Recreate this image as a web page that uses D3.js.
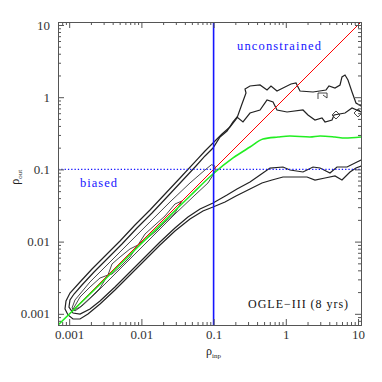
<!DOCTYPE html>
<html>
<head>
<meta charset="utf-8">
<script src="https://cdn.jsdelivr.net/npm/d3@7/dist/d3.min.js"></script>
<style>
  body { margin: 0; background: #fff; }
</style>
</head>
<body>
<div id="chart"></div>
<script>
const width = 382, height = 382;
const margin = {left: 58, top: 22, right: 21, bottom: 57};

// axis range and ticks
const rhoMin = 0.0007, rhoMax = 11;
const majorTicks = [0.001, 0.01, 0.1, 1, 10];
const majorLabels = ["0.001", "0.01", "0.1", "1", "10"];
const cutInp = 0.1, cutOut = 0.1;

// median recovered value (green)
const medianInp = [0.0007, 0.00267, 0.0131, 0.0471, 0.098, 0.186, 0.319, 0.483, 0.78, 1.14, 2.16, 2.98, 4.8, 6.6, 11];
const medianOut = [0.0007, 0.00257, 0.0123, 0.0428, 0.0863, 0.144, 0.204, 0.264, 0.281, 0.29, 0.281, 0.29, 0.281, 0.272, 0.281];

// contour lines, vertices as [log10 rho_inp, log10 rho_out]
const contourOuter = [
  [1.11,-0.15],[1.042,-0.122],[0.972,-0.080],[0.917,0.072],[0.861,0.238],[0.820,0.307],[0.778,0.280],[0.751,0.169],
  [0.681,0.127],[0.598,0.155],[0.557,0.100],[0.377,0.072],[0.197,0.086],[0.141,0.197],[0.072,0.183],[-0.039,0.127],
  [-0.122,0.086],[-0.205,0.155],[-0.260,0.100],[-0.357,0.169],[-0.496,0.155],[-0.565,0.114],[-0.551,0.058],[-0.607,-0.094],
  [-0.676,-0.288],[-0.773,-0.413],[-0.884,-0.510],[-1.008,-0.634],[-1.119,-0.745],[-1.258,-0.897],[-1.465,-1.119],
  [-1.673,-1.341],[-1.881,-1.562],[-2.089,-1.770],[-2.296,-1.992],[-2.504,-2.199],[-2.684,-2.379],[-2.850,-2.559],
  [-2.989,-2.712],[-3.044,-2.823],[-3.058,-2.933],[-3.016,-3.016],[-2.947,-3.072],[-2.850,-3.072],[-2.740,-3.003],
  [-2.573,-2.864],[-2.366,-2.670],[-2.158,-2.463],[-1.950,-2.255],[-1.742,-2.047],[-1.535,-1.853],[-1.327,-1.687],
  [-1.147,-1.576],[-1.008,-1.521],[-0.842,-1.451],[-0.690,-1.368],[-0.496,-1.271],[-0.330,-1.188],[-0.191,-1.147],
  [-0.039,-1.105],[0.127,-1.105],[0.294,-1.105],[0.404,-1.147],[0.543,-1.119],[0.681,-1.091],[0.778,-1.147],
  [0.889,-1.036],[0.972,-0.981],[1.042,-0.953],[1.11,-0.94]
];
const contourSecond = [
  [1.111,-0.856],[1.042,-0.870],[0.986,-0.897],[0.848,-0.967],[0.709,-0.967],[0.612,-1.050],[0.474,-0.981],[0.377,-0.967],
  [0.238,-1.036],[0.058,-1.008],[-0.039,-0.967],[-0.219,-0.981],[-0.357,-1.078],[-0.496,-1.174],[-0.676,-1.271],
  [-0.814,-1.355],[-1.008,-1.465],[-1.188,-1.548],[-1.355,-1.659],[-1.535,-1.812],[-1.742,-2.005],[-1.950,-2.213],
  [-2.158,-2.421],[-2.366,-2.629],[-2.573,-2.823],[-2.712,-2.933],[-2.850,-3.003],[-2.947,-2.989],[-3.003,-2.906],
  [-2.989,-2.809],[-2.933,-2.726],[-2.823,-2.601],[-2.656,-2.421],[-2.476,-2.241],[-2.269,-2.033],[-2.061,-1.812],
  [-1.853,-1.604],[-1.645,-1.382],[-1.438,-1.161],[-1.244,-0.953],[-1.119,-0.814],[-1.008,-0.704],[-0.911,-0.551],
  [-0.814,-0.468],[-0.731,-0.343],[-0.676,-0.274],[-0.593,-0.343],[-0.496,-0.219],[-0.357,-0.177],[-0.288,-0.080],
  [-0.260,-0.039],[-0.177,-0.066],[-0.122,-0.177],[0.017,-0.205],[0.238,-0.177],[0.307,-0.247],[0.404,-0.316],
  [0.501,-0.288],[0.543,-0.343],[0.640,-0.316],[0.668,-0.247],[0.820,-0.219],[0.917,-0.150],[1.042,-0.205],[1.111,-0.219]
];
const contourMiddle = [
  [-2.961,-2.920],[-2.920,-2.809],[-2.712,-2.559],[-2.435,-2.283],[-2.158,-2.005],[-1.881,-1.728],[-1.604,-1.451],
  [-1.327,-1.188],[-1.119,-1.008],[-1.030,-0.935],[-0.985,-0.950],[-0.975,-1.010],[-1.010,-1.080],[-1.078,-1.188],
  [-1.258,-1.355],[-1.535,-1.618],[-1.812,-1.895],[-2.089,-2.172],[-2.366,-2.449],[-2.643,-2.726],[-2.823,-2.892],
  [-2.920,-2.961],[-2.961,-2.920]
];
const contourInnerA = [
  [-2.961,-2.961],[-2.850,-2.767],[-2.712,-2.629],[-2.573,-2.504],[-2.463,-2.463],[-2.573,-2.643],[-2.712,-2.781],
  [-2.850,-2.906],[-2.961,-2.961]
];
const contourInnerB = [
  [-2.463,-2.463],[-2.407,-2.310],[-2.296,-2.213],[-2.158,-2.102],[-2.047,-2.047],[-2.158,-2.213],[-2.296,-2.352],
  [-2.407,-2.449],[-2.463,-2.463]
];
const contourInnerC = [
  [-2.047,-2.047],[-1.950,-1.895],[-1.812,-1.770],[-1.673,-1.645],[-1.535,-1.479],[-1.438,-1.438],[-1.535,-1.604],
  [-1.673,-1.728],[-1.812,-1.867],[-1.950,-1.978],[-2.047,-2.047]
];
const islandHook = [[0.446,-0.025],[0.446,0.058],[0.571,0.058],[0.571,-0.011],[0.515,0.030]];
const islandDiamondA = [[0.640,-0.247],[0.695,-0.191],[0.751,-0.247],[0.695,-0.302],[0.640,-0.247]];
const islandDiamondB = [[0.945,-0.219],[1.000,-0.163],[1.055,-0.219],[1.000,-0.274],[0.945,-0.219]];

const outerContours = [contourOuter, contourSecond];
const innerContours = [contourMiddle, contourInnerA, contourInnerB, contourInnerC,
  islandHook, islandDiamondA, islandDiamondB];

const innerW = width - margin.left - margin.right;
const innerH = height - margin.top - margin.bottom;

const serif = "'Liberation Serif', 'DejaVu Serif', serif";

const svg = d3.select("#chart")
    .append("svg")
    .attr("width", width)
    .attr("height", height)
    .attr("font-family", serif);

const g = svg.append("g")
    .attr("transform", `translate(${margin.left}, ${margin.top})`);

const x = d3.scaleLog().domain([rhoMin, rhoMax]).range([0, innerW]);
const y = d3.scaleLog().domain([rhoMin, rhoMax]).range([innerH, 0]);

g.append("clipPath").attr("id", "plot-clip")
    .append("rect").attr("width", innerW).attr("height", innerH);

const plot = g.append("g").attr("clip-path", "url(#plot-clip)");

// contours
const contourLine = d3.line()
    .x(d => x(Math.pow(10, d[0])))
    .y(d => y(Math.pow(10, d[1])));

plot.selectAll(".contour-outer")
    .data(outerContours)
    .enter().append("path")
    .attr("class", "contour-outer")
    .attr("d", contourLine)
    .attr("fill", "none")
    .attr("stroke", "#222")
    .attr("stroke-width", 1.2);

plot.selectAll(".contour-inner")
    .data(innerContours)
    .enter().append("path")
    .attr("class", "contour-inner")
    .attr("d", contourLine)
    .attr("fill", "none")
    .attr("stroke", "#333")
    .attr("stroke-width", 0.9);

// one-to-one line
plot.append("path")
    .datum([rhoMin, rhoMax])
    .attr("d", d3.line().x(d => x(d)).y(d => y(d)))
    .attr("fill", "none")
    .attr("stroke", "#ff0000")
    .attr("stroke-width", 1);

// median
plot.append("path")
    .datum(medianInp.map((v, i) => [v, medianOut[i]]))
    .attr("d", d3.line().x(d => x(d[0])).y(d => y(d[1])).curve(d3.curveMonotoneX))
    .attr("fill", "none")
    .attr("stroke", "#22ee22")
    .attr("stroke-width", 1.6);

// cuts
plot.append("line")
    .attr("x1", x(cutInp)).attr("x2", x(cutInp))
    .attr("y1", 0).attr("y2", innerH)
    .attr("stroke", "#1515ff")
    .attr("stroke-width", 1.6);

plot.append("line")
    .attr("x1", 0).attr("x2", innerW)
    .attr("y1", y(cutOut)).attr("y2", y(cutOut))
    .attr("stroke", "#1515ff")
    .attr("stroke-width", 1.3)
    .attr("stroke-dasharray", "1.3,2");

// axes
const minorTicks = x.ticks().filter(t => !majorTicks.some(m => Math.abs(m - t) / m < 1e-6));
const fmt = d => majorLabels[majorTicks.indexOf(d)];

function styleAxis(sel) {
    sel.attr("font-family", serif).attr("font-size", 13);
    sel.select(".domain").attr("stroke", "#555");
    sel.selectAll(".tick line").attr("stroke", "#555");
    sel.selectAll(".tick text").attr("fill", "#333");
}

g.append("g").attr("transform", `translate(0, ${innerH})`)
    .call(d3.axisBottom(x).tickValues(majorTicks).tickFormat(fmt).tickSizeInner(-6).tickSizeOuter(0).tickPadding(5))
    .call(styleAxis);
g.append("g").attr("transform", `translate(0, ${innerH})`)
    .call(d3.axisBottom(x).tickValues(minorTicks).tickFormat("").tickSizeInner(-3).tickSizeOuter(0))
    .call(styleAxis);
g.append("g")
    .call(d3.axisTop(x).tickValues(majorTicks).tickFormat("").tickSizeInner(-6).tickSizeOuter(0))
    .call(styleAxis);
g.append("g")
    .call(d3.axisTop(x).tickValues(minorTicks).tickFormat("").tickSizeInner(-3).tickSizeOuter(0))
    .call(styleAxis);
g.append("g")
    .call(d3.axisLeft(y).tickValues(majorTicks).tickFormat(fmt).tickSizeInner(-6).tickSizeOuter(0).tickPadding(8))
    .call(styleAxis);
g.append("g")
    .call(d3.axisLeft(y).tickValues(minorTicks).tickFormat("").tickSizeInner(-3).tickSizeOuter(0))
    .call(styleAxis);
g.append("g").attr("transform", `translate(${innerW}, 0)`)
    .call(d3.axisRight(y).tickValues(majorTicks).tickFormat("").tickSizeInner(-6).tickSizeOuter(0))
    .call(styleAxis);
g.append("g").attr("transform", `translate(${innerW}, 0)`)
    .call(d3.axisRight(y).tickValues(minorTicks).tickFormat("").tickSizeInner(-3).tickSizeOuter(0))
    .call(styleAxis);

// annotations
g.append("text")
    .attr("x", x(0.211)).attr("y", y(4.5))
    .attr("fill", "#1515ff").attr("font-size", 12.5)
    .attr("textLength", 84).attr("lengthAdjust", "spacing")
    .text("unconstrained");
g.append("text")
    .attr("x", x(0.00141)).attr("y", y(0.057))
    .attr("fill", "#1515ff").attr("font-size", 12.5)
    .attr("textLength", 37).attr("lengthAdjust", "spacing")
    .text("biased");
g.append("text")
    .attr("x", x(0.30)).attr("y", y(0.0012))
    .attr("fill", "#111").attr("font-size", 12)
    .attr("textLength", 100).attr("lengthAdjust", "spacing")
    .text("OGLE\u2212III (8 yrs)");

// axis titles
const xTitle = svg.append("text")
    .attr("x", margin.left + x(0.1)).attr("y", 355)
    .attr("text-anchor", "middle").attr("fill", "#222")
    .attr("font-size", 12);
xTitle.append("tspan").text("\u03c1");
xTitle.append("tspan").attr("dy", 3).attr("font-size", 7).text("inp");

const yTitle = svg.append("text")
    .attr("transform", `translate(19, ${margin.top + y(0.1) + 8}) rotate(-90)`)
    .attr("text-anchor", "middle").attr("fill", "#222")
    .attr("font-size", 12);
yTitle.append("tspan").text("\u03c1");
yTitle.append("tspan").attr("dy", 3).attr("font-size", 7).text("out");
</script>
</body>
</html>
